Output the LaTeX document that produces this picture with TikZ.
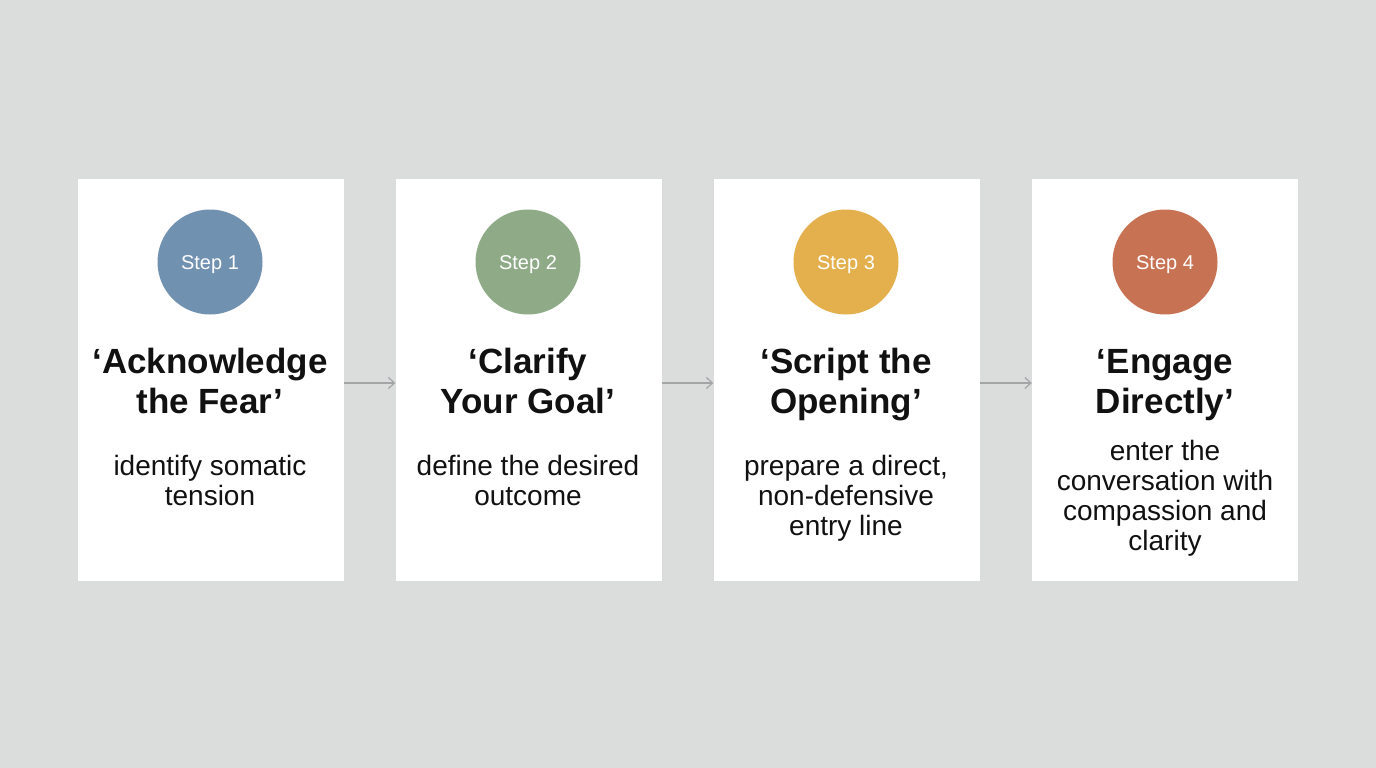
\documentclass[tikz,border=0pt]{standalone}
\usepackage{fontspec}
\setmainfont{Liberation Sans}
\usetikzlibrary{arrows.meta}
\definecolor{bg}{HTML}{DADDDC}
\definecolor{cA}{HTML}{7191B1}
\definecolor{cB}{HTML}{8FAA87}
\definecolor{cC}{HTML}{E3B04D}
\definecolor{cD}{HTML}{C77252}
\definecolor{arr}{HTML}{A3A6A6}
\definecolor{ink}{HTML}{111111}
\tikzset{
  card/.style={fill=white, draw=none, minimum width=266pt, minimum height=402pt, inner sep=0pt},
  stepdot/.style={circle, minimum size=105pt, inner sep=0pt},
  steplabel/.style={text=white, font=\fontsize{20}{24}\selectfont, inner sep=0pt, anchor=base},
  title/.style={align=center, text=ink, font=\fontsize{35}{40}\selectfont\bfseries, inner sep=0pt, anchor=base},
  body/.style={align=center, text=ink, font=\fontsize{28}{30}\selectfont, inner sep=0pt, anchor=base},
  flow/.style={draw=arr, line width=1.2pt, -{Straight Barb[length=6pt,width=11pt,line width=1.2pt]}},
}
\begin{document}
\begin{tikzpicture}[x=1pt,y=-1pt]
\useasboundingbox (0,0) rectangle (1376,768);
\fill[bg] (0,0) rectangle (1376,768);
\node[card] (c1) at (210.5,380) {};
\node[card] (c2) at (528.5,380) {};
\node[card] (c3) at (846.5,380) {};
\node[card] (c4) at (1165,380) {};
\node[stepdot, fill=cA] (s1) at (210,262) {};
\node[stepdot, fill=cB] (s2) at (528,262) {};
\node[stepdot, fill=cC] (s3) at (846,262) {};
\node[stepdot, fill=cD] (s4) at (1165,262) {};
\node[steplabel] (l1) at (210,269) {Step 1};
\node[steplabel] (l2) at (528,269) {Step 2};
\node[steplabel] (l3) at (846,269) {Step 3};
\node[steplabel] (l4) at (1165,269) {Step 4};
\node[title] (t1) at (210,413) {‘Acknowledge\\the Fear’};
\node[title] (t2) at (528,413) {‘Clarify\\Your Goal’};
\node[title] (t3) at (846,413) {‘Script the\\Opening’};
\node[title] (t4) at (1165,413) {‘Engage\\Directly’};
\node[body] (b1) at (210,505) {identify somatic\\tension};
\node[body] (b2) at (528,505) {define the desired\\outcome};
\node[body] (b3) at (846,535) {prepare a direct,\\non-defensive\\entry line};
\node[body] (b4) at (1165,550) {enter the\\conversation with\\compassion and\\clarity};
\draw[flow] ([yshift=-3pt]c1.east) -- ([yshift=-3pt]c2.west);
\draw[flow] ([yshift=-3pt]c2.east) -- ([yshift=-3pt]c3.west);
\draw[flow] ([yshift=-3pt]c3.east) -- ([yshift=-3pt]c4.west);
\end{tikzpicture}
\end{document}
